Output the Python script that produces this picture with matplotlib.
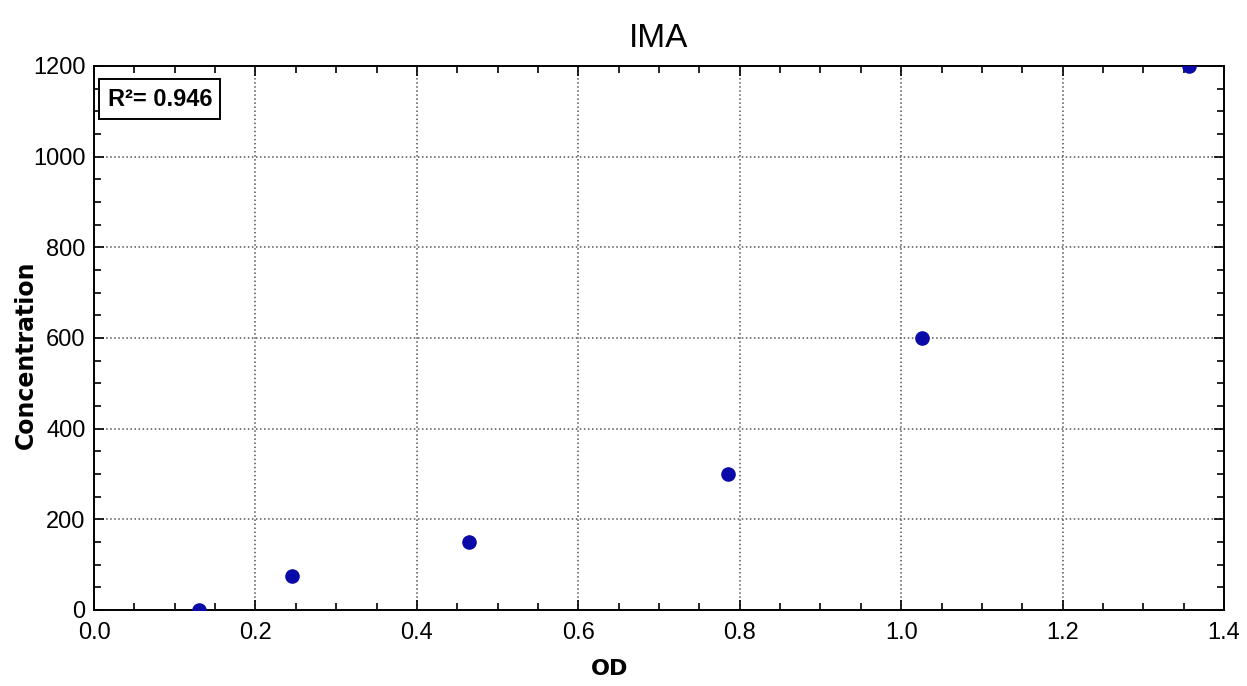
import matplotlib
matplotlib.use('Agg')
import matplotlib.pyplot as plt
from matplotlib.ticker import MultipleLocator, AutoMinorLocator

# standard curve points
od = [0.130, 0.245, 0.465, 0.786, 1.026, 1.356]
concentration = [0, 75, 150, 300, 600, 1200]
r_squared = '0.946'

narrow = ['Liberation Sans Narrow', 'Liberation Sans', 'DejaVu Sans']

fig = plt.figure(figsize=(12.47, 6.86), dpi=100)
ax = fig.add_axes([0.0754, 0.1108, 0.9062, 0.793])

ax.plot(od, concentration, linestyle='none', marker='o', markersize=9.5,
        color='#0a0aa8', clip_on=True, zorder=3)

ax.set_xlim(0, 1.4)
ax.set_ylim(0, 1200)
ax.xaxis.set_major_locator(MultipleLocator(0.2))
ax.yaxis.set_major_locator(MultipleLocator(200))
ax.xaxis.set_minor_locator(AutoMinorLocator(4))
ax.yaxis.set_minor_locator(AutoMinorLocator(4))
ax.xaxis.set_major_formatter(lambda v, p: '%.1f' % v)

ax.tick_params(which='both', direction='in', top=True, right=True, width=1.2)
ax.tick_params(which='major', length=7, labelsize=17)
ax.tick_params(axis='x', which='major', pad=9)
ax.tick_params(axis='y', which='major', pad=6)
ax.tick_params(which='minor', length=5)
for lab in ax.get_xticklabels() + ax.get_yticklabels():
    lab.set_family(narrow)

ax.grid(which='major', linestyle=':', color='#555555', linewidth=1.1)
for s in ax.spines.values():
    s.set_linewidth(1.4)

ax.set_title('IMA', fontsize=24, family=narrow, pad=14)
ax.set_xlabel('OD', fontsize=16, fontweight='bold')
ax.xaxis.set_label_coords(0.4565, -0.09)
ax.set_ylabel('Concentration', fontsize=17, fontweight='bold')
ax.yaxis.set_label_coords(-0.05, 0.47)

ax.text(0.012, 0.96, 'R\u00b2= ' + r_squared, transform=ax.transAxes,
        fontsize=17, fontweight='bold', family=narrow, va='top', ha='left',
        bbox=dict(boxstyle='square,pad=0.35', facecolor='white',
                  edgecolor='black', linewidth=1.4))

fig.savefig('out.png', dpi=100)
